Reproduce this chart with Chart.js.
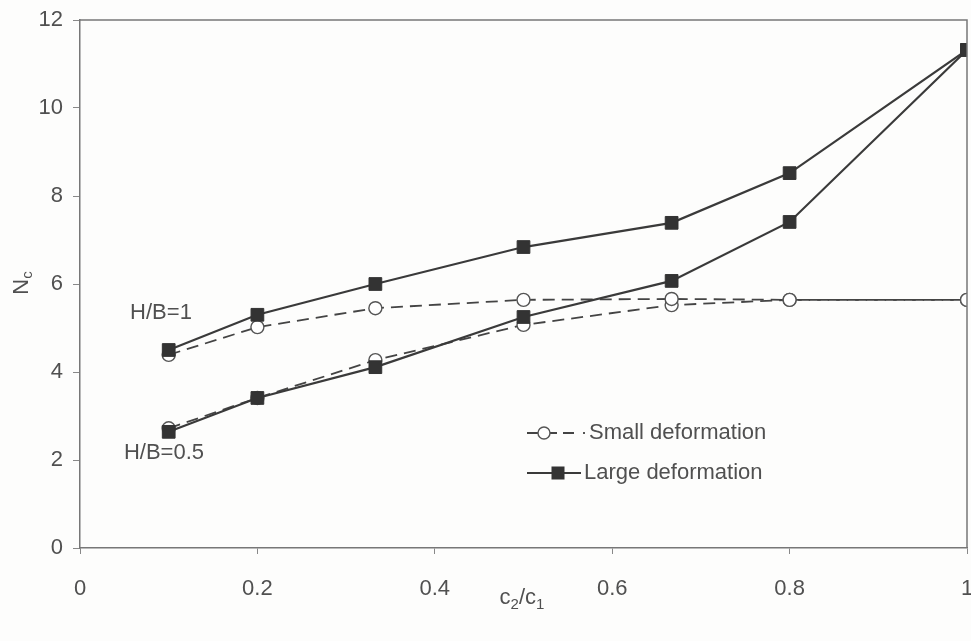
<!DOCTYPE html>
<html>
<head>
<meta charset="utf-8">
<script src="https://cdn.jsdelivr.net/npm/chart.js@4.4.1/dist/chart.umd.min.js"></script>
<style>
  html, body { margin: 0; padding: 0; background: #fdfdfc; }
  #wrap { width: 971px; height: 641px; }
</style>
</head>
<body>
<div id="wrap"><canvas id="c" width="971" height="641"></canvas></div>
<script>
// ---- data ----
const xValues   = [0.1, 0.2, 0.333, 0.5, 0.667, 0.8, 1];
const largeHB1  = [4.50, 5.30, 6.00, 6.84, 7.39, 8.52, 11.32];
const largeHB05 = [2.64, 3.41, 4.11, 5.25, 6.07, 7.41, 11.32];
const smallHB1  = [4.39, 5.02, 5.45, 5.64, 5.66, 5.64, 5.64];
const smallHB05 = [2.72, 3.41, 4.27, 5.07, 5.52, 5.64, 5.64];
const xTicks = [0, 0.2, 0.4, 0.6, 0.8, 1];
const yTicks = [0, 2, 4, 6, 8, 10, 12];
const legendLabels = ['Small deformation', 'Large deformation'];
const curveLabels = ['H/B=1', 'H/B=0.5'];

const FONT = '"Liberation Sans", Arial, Helvetica, sans-serif';
const TXT = '#505050';
const LINE = '#3a3a3a';

function pts(ys) { return xValues.map((x, i) => ({ x: x, y: ys[i] })); }

const largeStyle = {
  borderColor: LINE, borderWidth: 2.2, backgroundColor: '#333',
  pointStyle: 'rect', pointRadius: 9, pointBorderWidth: 1,
  pointBackgroundColor: '#333', pointBorderColor: '#333', order: 1
};
const smallStyle = {
  borderColor: '#444', borderWidth: 1.8, borderDash: [12, 7],
  pointStyle: 'circle', pointRadius: 6.5, pointBorderWidth: 1.4,
  pointBackgroundColor: '#fff', pointBorderColor: '#555', order: 2
};

const overlay = {
  id: 'overlay',
  afterDraw(chart) {
    const ctx = chart.ctx;
    const a = chart.chartArea;
    ctx.save();
    // frame: top and right
    ctx.strokeStyle = '#777';
    ctx.lineWidth = 1.5;
    ctx.beginPath();
    ctx.moveTo(a.left, a.top); ctx.lineTo(a.right, a.top); ctx.lineTo(a.right, a.bottom);
    ctx.stroke();

    ctx.fillStyle = TXT;
    ctx.font = '22px ' + FONT;
    ctx.textBaseline = 'middle';
    ctx.textAlign = 'center';
    // curve labels
    ctx.fillText(curveLabels[0], 161, 313);
    ctx.fillText(curveLabels[1], 164, 453);

    // legend
    const lx0 = 527, lx1 = 574;
    // small deformation entry
    let y = 433;
    ctx.save();
    ctx.strokeStyle = '#444'; ctx.lineWidth = 1.8; ctx.setLineDash([12, 6]);
    ctx.beginPath(); ctx.moveTo(lx0, y); ctx.lineTo(lx1, y); ctx.stroke();
    ctx.restore();
    ctx.fillStyle = '#555';
    ctx.fillRect(583, y - 1, 2, 2);
    ctx.beginPath(); ctx.arc(544, y, 6, 0, Math.PI * 2);
    ctx.fillStyle = '#fff'; ctx.fill();
    ctx.strokeStyle = '#555'; ctx.lineWidth = 1.4; ctx.stroke();
    ctx.fillStyle = TXT; ctx.textAlign = 'left';
    ctx.fillText(legendLabels[0], 589, y);
    // large deformation entry
    y = 473;
    ctx.strokeStyle = LINE; ctx.lineWidth = 2.2;
    ctx.beginPath(); ctx.moveTo(lx0, y); ctx.lineTo(581, y); ctx.stroke();
    ctx.fillStyle = '#333';
    ctx.fillRect(558 - 6.5, y - 6.5, 13, 13);
    ctx.fillStyle = TXT;
    ctx.fillText(legendLabels[1], 584, y);

    // axis titles with subscripts
    const big = '22px ' + FONT;
    const sub = '15px ' + FONT;
    const parts = [['c', false], ['2', true], ['/c', false], ['1', true]];
    let widths = parts.map(p => { ctx.font = p[1] ? sub : big; return ctx.measureText(p[0]).width; });
    let total = widths.reduce((s, w) => s + w, 0);
    let x = 522 - total / 2;
    ctx.textAlign = 'left';
    parts.forEach((p, i) => {
      ctx.font = p[1] ? sub : big;
      ctx.fillText(p[0], x, p[1] ? 605 : 598);
      x += widths[i];
    });
    // y: N_c (rotated)
    ctx.save();
    ctx.translate(22, 283);
    ctx.rotate(-Math.PI / 2);
    ctx.font = big;
    const wN = ctx.measureText('N').width;
    ctx.font = sub;
    const wc = ctx.measureText('c').width;
    const start = -(wN + wc) / 2;
    ctx.font = big;
    ctx.fillText('N', start, 0);
    ctx.font = sub;
    ctx.fillText('c', start + wN, 6);
    ctx.restore();

    ctx.restore();
  }
};

new Chart(document.getElementById('c'), {
  type: 'line',
  data: {
    datasets: [
      Object.assign({ label: 'Large H/B=1', data: pts(largeHB1) }, largeStyle),
      Object.assign({ label: 'Large H/B=0.5', data: pts(largeHB05) }, largeStyle),
      Object.assign({ label: 'Small H/B=1', data: pts(smallHB1) }, smallStyle),
      Object.assign({ label: 'Small H/B=0.5', data: pts(smallHB05) }, smallStyle)
    ]
  },
  options: {
    responsive: false,
    animation: false,
    layout: { autoPadding: false, padding: { top: 20, right: 4, left: 0, bottom: 0 } },
    plugins: { legend: { display: false }, tooltip: { enabled: false } },
    elements: { line: { tension: 0, fill: false } },
    scales: {
      x: {
        type: 'linear', min: 0, max: 1,
        afterFit(s) { s.height = 93; s.paddingLeft = 0; s.paddingRight = 0; },
        afterBuildTicks(s) { s.ticks = xTicks.map(v => ({ value: v })); },
        ticks: { color: TXT, font: { family: FONT, size: 22 }, padding: 22, maxRotation: 0,
                 callback: v => String(+v.toFixed(1)) },
        grid: { display: true, drawOnChartArea: false, drawTicks: true, tickLength: 6, color: '#888', lineWidth: 1 },
        border: { display: true, color: '#777', width: 1.5 }
      },
      y: {
        type: 'linear', min: 0, max: 12,
        afterFit(s) { s.width = 80; s.paddingTop = 0; s.paddingBottom = 0; },
        afterBuildTicks(s) { s.ticks = yTicks.map(v => ({ value: v })); },
        ticks: { color: TXT, font: { family: FONT, size: 22 }, padding: 10,
                 callback: v => String(v) },
        grid: { display: true, drawOnChartArea: false, drawTicks: true, tickLength: 7, color: '#888', lineWidth: 1 },
        border: { display: true, color: '#777', width: 1.5 }
      }
    }
  },
  plugins: [overlay]
});
</script>
</body>
</html>
